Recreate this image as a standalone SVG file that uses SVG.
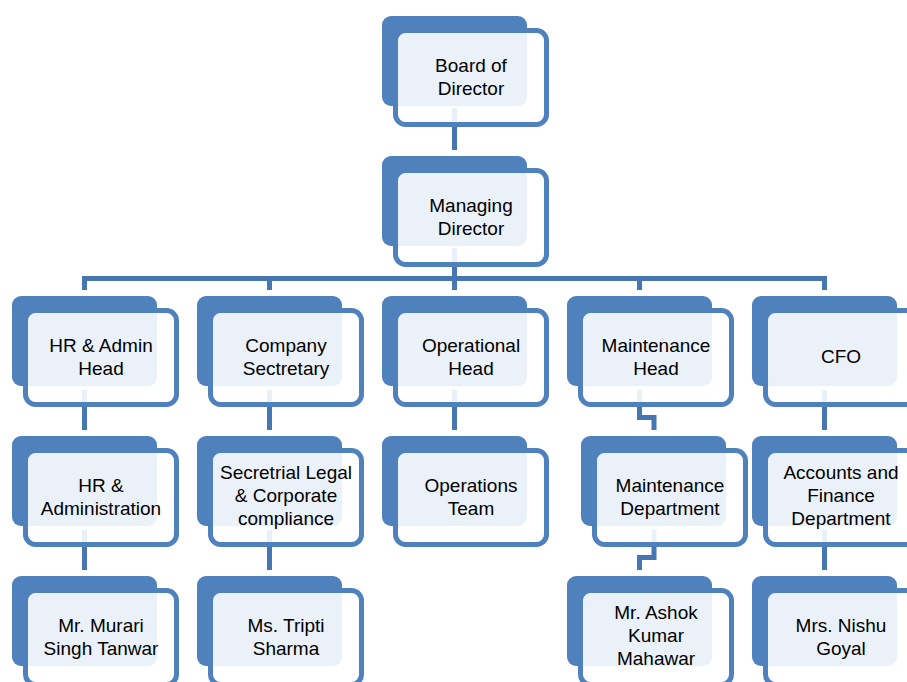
<svg xmlns="http://www.w3.org/2000/svg" width="907" height="682" viewBox="0 0 907 682">
<style>
.bk{fill:#4f81bd}
.fr{fill:#ffffff;fill-opacity:0.89;stroke:#4f81bd;stroke-width:5}
.cn{fill:none;stroke:#4677b3;stroke-width:5;stroke-linejoin:miter}
text{font-family:"Liberation Sans",Arial,sans-serif;font-size:19px;fill:#000;text-anchor:middle}
</style>
<rect width="907" height="682" fill="#ffffff"/>
<g id="connectors">
<path class="cn" d="M454.5,108 V150"/>
<path class="cn" d="M454.5,248 V290"/>
<path class="cn" d="M84.5,290 V278.5 H824.5 V290"/>
<path class="cn" d="M269.5,278.5 V290"/>
<path class="cn" d="M639.5,278.5 V290"/>
<path class="cn" d="M84.5,390 V430"/>
<path class="cn" d="M269.5,390 V430"/>
<path class="cn" d="M454.5,390 V430"/>
<path class="cn" d="M824.5,390 V430"/>
<path class="cn" d="M639.5,390 V417.5 H654 V430"/>
<path class="cn" d="M84.5,530 V570"/>
<path class="cn" d="M269.5,530 V570"/>
<path class="cn" d="M824.5,530 V570"/>
<path class="cn" d="M654,530 V557.5 H639.5 V570"/>
</g>
<g id="board"><rect class="bk" x="382" y="16" width="145" height="90" rx="9"/><rect class="fr" x="395.5" y="30.5" width="151" height="94" rx="10"/><text x="471" y="72">Board of</text><text x="471" y="95">Director</text></g>
<g id="md"><rect class="bk" x="382" y="156" width="145" height="90" rx="9"/><rect class="fr" x="395.5" y="170.5" width="151" height="94" rx="10"/><text x="471" y="212">Managing</text><text x="471" y="235">Director</text></g>
<g id="hrhead"><rect class="bk" x="12" y="296" width="145" height="90" rx="9"/><rect class="fr" x="25.5" y="310.5" width="151" height="94" rx="10"/><text x="101" y="352">HR &amp; Admin</text><text x="101" y="375">Head</text></g>
<g id="cs"><rect class="bk" x="197" y="296" width="145" height="90" rx="9"/><rect class="fr" x="210.5" y="310.5" width="151" height="94" rx="10"/><text x="286" y="352">Company</text><text x="286" y="375">Sectretary</text></g>
<g id="oph"><rect class="bk" x="382" y="296" width="145" height="90" rx="9"/><rect class="fr" x="395.5" y="310.5" width="151" height="94" rx="10"/><text x="471" y="352">Operational</text><text x="471" y="375">Head</text></g>
<g id="mh"><rect class="bk" x="567" y="296" width="145" height="90" rx="9"/><rect class="fr" x="580.5" y="310.5" width="151" height="94" rx="10"/><text x="656" y="352">Maintenance</text><text x="656" y="375">Head</text></g>
<g id="cfo"><rect class="bk" x="752" y="296" width="145" height="90" rx="9"/><rect class="fr" x="765.5" y="310.5" width="151" height="94" rx="10"/><text x="841" y="363">CFO</text></g>
<g id="hradmin"><rect class="bk" x="12" y="436" width="145" height="90" rx="9"/><rect class="fr" x="25.5" y="450.5" width="151" height="94" rx="10"/><text x="101" y="492">HR &amp;</text><text x="101" y="515">Administration</text></g>
<g id="slcc"><rect class="bk" x="197" y="436" width="145" height="90" rx="9"/><rect class="fr" x="210.5" y="450.5" width="151" height="94" rx="10"/><text x="286" y="479">Secretrial Legal</text><text x="286" y="502">&amp; Corporate</text><text x="286" y="525">compliance</text></g>
<g id="opteam"><rect class="bk" x="382" y="436" width="145" height="90" rx="9"/><rect class="fr" x="395.5" y="450.5" width="151" height="94" rx="10"/><text x="471" y="492">Operations</text><text x="471" y="515">Team</text></g>
<g id="mdept"><rect class="bk" x="581" y="436" width="145" height="90" rx="9"/><rect class="fr" x="594.5" y="450.5" width="151" height="94" rx="10"/><text x="670" y="492">Maintenance</text><text x="670" y="515">Department</text></g>
<g id="afd"><rect class="bk" x="752" y="436" width="145" height="90" rx="9"/><rect class="fr" x="765.5" y="450.5" width="151" height="94" rx="10"/><text x="841" y="479">Accounts and</text><text x="841" y="502">Finance</text><text x="841" y="525">Department</text></g>
<g id="murari"><rect class="bk" x="12" y="576" width="145" height="90" rx="9"/><rect class="fr" x="25.5" y="590.5" width="151" height="94" rx="10"/><text x="101" y="632">Mr. Murari</text><text x="101" y="655">Singh Tanwar</text></g>
<g id="tripti"><rect class="bk" x="197" y="576" width="145" height="90" rx="9"/><rect class="fr" x="210.5" y="590.5" width="151" height="94" rx="10"/><text x="286" y="632">Ms. Tripti</text><text x="286" y="655">Sharma</text></g>
<g id="ashok"><rect class="bk" x="567" y="576" width="145" height="90" rx="9"/><rect class="fr" x="580.5" y="590.5" width="151" height="94" rx="10"/><text x="656" y="619">Mr. Ashok</text><text x="656" y="642">Kumar</text><text x="656" y="665">Mahawar</text></g>
<g id="nishu"><rect class="bk" x="752" y="576" width="145" height="90" rx="9"/><rect class="fr" x="765.5" y="590.5" width="151" height="94" rx="10"/><text x="841" y="632">Mrs. Nishu</text><text x="841" y="655">Goyal</text></g>
</svg>
